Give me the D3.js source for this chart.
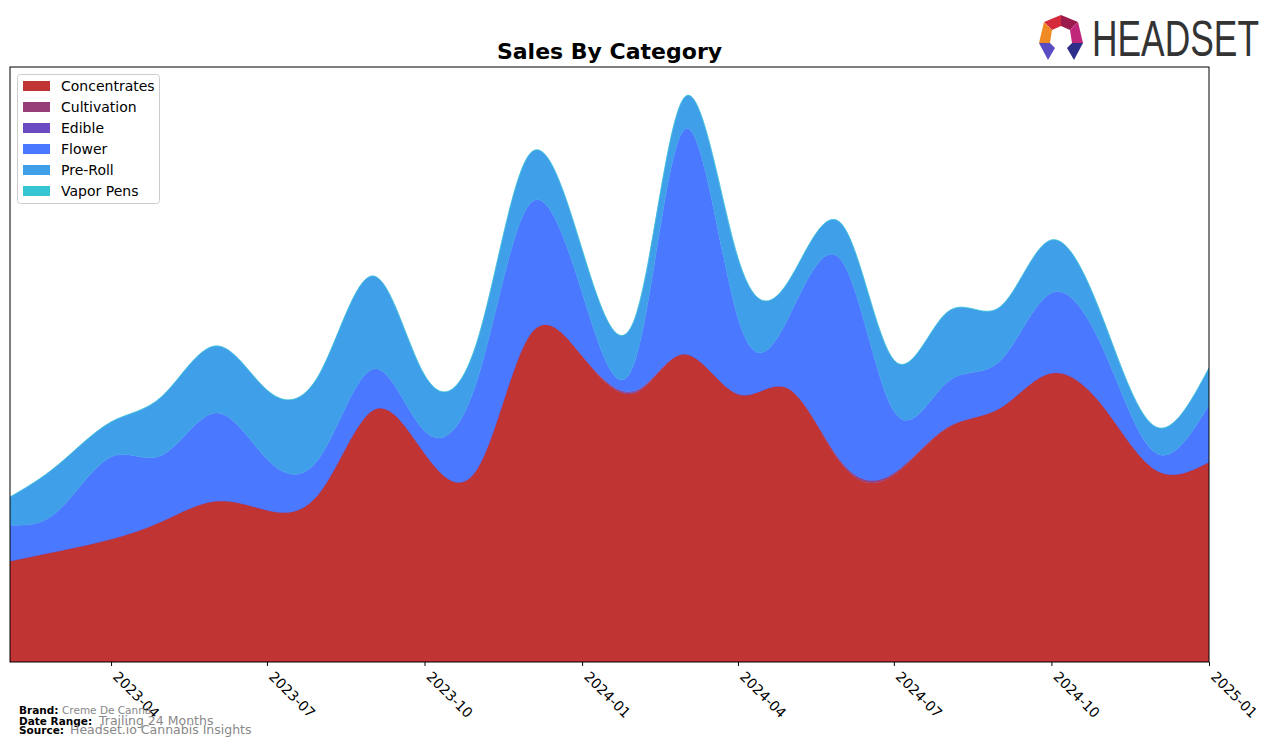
<!DOCTYPE html>
<html><head><meta charset="utf-8">
<script src="https://cdn.jsdelivr.net/npm/d3@7"></script>
<style>
body{margin:0;background:#fff;}
svg{display:block;font-family:"DejaVu Sans",sans-serif;}
</style>
</head><body>
<svg id="chart" width="1276" height="748"></svg>
<script>
// ---- data (arbitrary sales units) ----
const months = ["2023-02","2023-03","2023-04","2023-05","2023-06","2023-07","2023-08","2023-09","2023-10","2023-11","2023-12","2024-01",
                "2024-02","2024-03","2024-04","2024-05","2024-06","2024-07","2024-08","2024-09","2024-10","2024-11","2024-12","2025-01"];
const categories = ["Concentrates","Cultivation","Edible","Flower","Pre-Roll","Vapor Pens"];
const concentrates = [101,111,123,141,161,152,170,252,209,194,326,306,269,308,268,273,197,187,234,254,289,254,192,200];
const cultivation  = [0,0,0,0,0,0,0,0,0,0,0,0.5,1.5,0,0,0,2,2,0.5,0,0,0,0,0];
const edible       = [0,0,0,0,0,0,0,0,0,0,0,0,1,0,0,0,0,0,0,0,0,0,0,0];
const flower       = [36,40,82,66,88,51,35,41,22,89,131,63,30,225,76,73,201,62,45,47,80,56,17,57];
const preRoll      = [28,46,35,59,67,69,84,93,56,39,50,43,43,32,60,36,37,51,70,54,53,29,26,37];
const vaporPens    = [0,0,0,0,0,0,0,0,0,0,0,0,0,0,0,0,0,0,0,0,0,0,0,0];
const tickLabels = ["2023-04","2023-07","2023-10","2024-01","2024-04","2024-07","2024-10","2025-01"];
const colors = ["#c13434","#973d78","#6b4bc2","#4a78ff","#3fa0e9","#36c5d3"];

// ---- layout ----
const svg = d3.select("#chart");
const L = 10, R = 1209, T = 67, B = 662;
const parse = d3.timeParse("%Y-%m");
const seriesArr = [concentrates, cultivation, edible, flower, preRoll, vaporPens];
const rows = months.map((m, i) => {
  const o = {date: parse(m)};
  categories.forEach((c, k) => o[c] = seriesArr[k][i]);
  return o;
});
const x = d3.scaleTime().domain([parse(months[0]), parse(months[months.length-1])]).range([L, R]);
const totals = rows.map(r => d3.sum(categories, c => r[c]));
const y = d3.scaleLinear().domain([0, d3.max(totals) * 1.053]).range([B, T]);

const layers = d3.stack().keys(categories)(rows);

svg.append("defs").append("clipPath").attr("id","clip")
  .append("rect").attr("x",L).attr("y",T).attr("width",R-L).attr("height",B-T);

const area = d3.area()
  .x(d => x(d.data.date))
  .y0(d => y(d[0]))
  .y1(d => y(d[1]))
  .curve(d3.curveNatural);

svg.append("g").attr("clip-path","url(#clip)")
  .selectAll("path").data(layers).join("path")
  .attr("d", area)
  .attr("fill", (d,i) => colors[i])
  .attr("stroke", (d,i) => colors[i])
  .attr("stroke-width", 0.4);

// frame
svg.append("rect").attr("x",L).attr("y",T).attr("width",R-L).attr("height",B-T)
  .attr("fill","none").attr("stroke","#000").attr("stroke-width",1);

// x axis
const xAxis = d3.axisBottom(x)
  .tickValues(tickLabels.map(parse))
  .tickFormat(d3.timeFormat("%Y-%m"))
  .tickSize(4).tickPadding(3);
const gx = svg.append("g").attr("transform",`translate(0,${B})`).call(xAxis);
gx.select(".domain").remove();
gx.selectAll(".tick line").attr("stroke","#000");
gx.selectAll(".tick text")
  .attr("font-size", 14).attr("font-family","DejaVu Sans").attr("fill","#000")
  .attr("text-anchor","start")
  .attr("y", 0).attr("x", 0).attr("dy","0.35em")
  .attr("transform","translate(4,12) rotate(45)");

// title
svg.append("text").attr("x",(L+R)/2).attr("y",59).attr("text-anchor","middle")
  .attr("font-size",22).attr("font-weight","bold").text("Sales By Category");

// legend
const lg = svg.append("g");
lg.append("rect").attr("x",17.5).attr("y",74.5).attr("width",142).attr("height",129)
  .attr("rx",3).attr("fill","#fff").attr("fill-opacity",0.85).attr("stroke","#cccccc");
categories.forEach((c,i) => {
  const yy = 86 + i*21;
  lg.append("rect").attr("x",23).attr("y",yy-5).attr("width",27).attr("height",10).attr("fill",colors[i]);
  lg.append("text").attr("x",61).attr("y",yy+5).attr("font-size",14).attr("fill","#000").text(c);
});

// footer
const ft = svg.append("g");
const foot = [["Brand:","Creme De Canna",714,62,10.5],["Date Range:","Trailing 24 Months",725,99,12.5],["Source:","Headset.io Cannabis Insights",734,70,12.5]];
foot.forEach(f => {
  ft.append("text").attr("x",19).attr("y",f[2]).attr("font-weight","bold").attr("font-size",10.5).attr("fill","#000").text(f[0]);
  ft.append("text").attr("x",f[3]).attr("y",f[2]).attr("font-size",f[4]).attr("fill","#888").text(f[1]);
});

// logo
const logo = svg.append("g");
const polys = [
  [[[1044,22],[1061,15],[1061,26],[1052,30]],"#d42a3c"],
  [[[1061,15],[1078,22],[1070,30],[1061,26]],"#9b1b4d"],
  [[[1078,22],[1083,43],[1072,43],[1070,30]],"#c0267a"],
  [[[1044,22],[1052,30],[1050,43],[1039,43]],"#f08a24"],
  [[[1039,43],[1050,43],[1055,48],[1048,60]],"#5a4dc4"],
  [[[1072,43],[1083,43],[1074,60],[1067,48]],"#2e2f8a"]
];
polys.forEach(p => logo.append("polygon").attr("points", p[0].map(q=>q.join(",")).join(" ")).attr("fill",p[1]));
logo.append("text").attr("x",1092).attr("y",56).attr("font-family","Liberation Sans Narrow, Liberation Sans, sans-serif")
  .attr("font-size",50).attr("fill","#333").attr("textLength",167).attr("lengthAdjust","spacingAndGlyphs").text("HEADSET");
</script>
</body></html>
